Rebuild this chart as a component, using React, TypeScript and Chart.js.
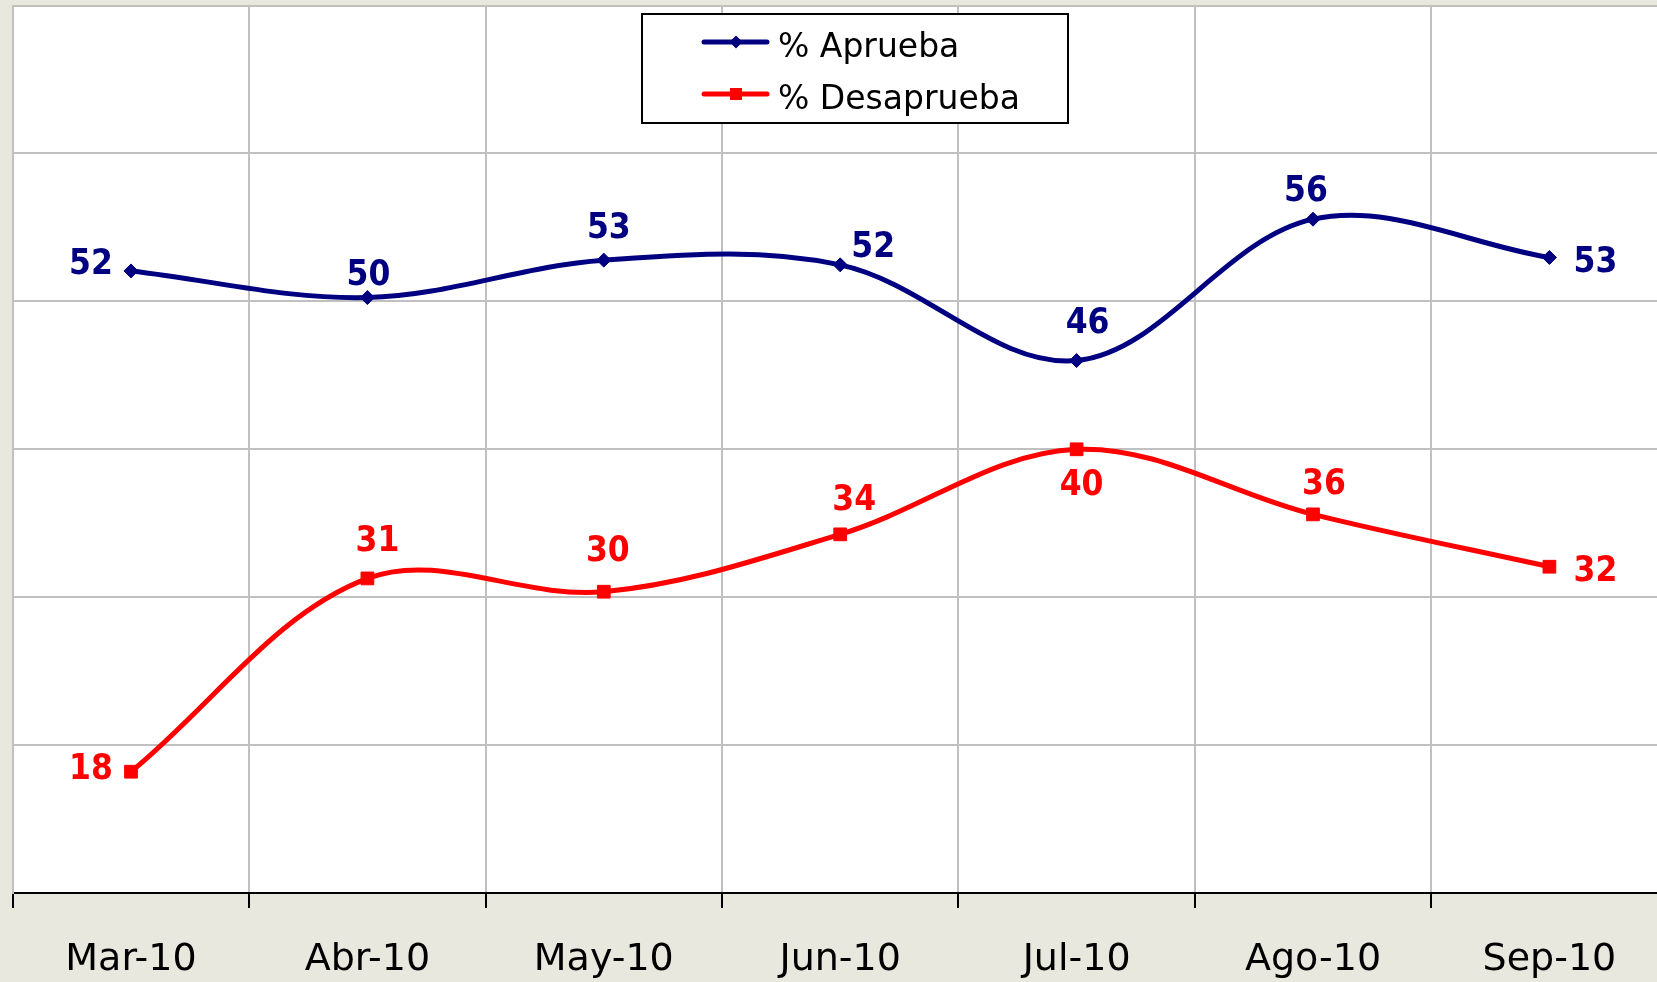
import React, { useEffect, useRef } from "react";
import { Chart, registerables } from "chart.js";

Chart.register(...registerables);

// ---- data ----
const categories = ["Mar-10", "Abr-10", "May-10", "Jun-10", "Jul-10", "Ago-10", "Sep-10"];
const apruebaValues = [52.06, 50.26, 52.79, 52.47, 46.0, 55.56, 52.97];
const desapruebaValues = [18.2, 31.27, 30.37, 34.25, 40.0, 35.6, 32.06];
const seriesNames = ["% Aprueba", "% Desaprueba"];
const yMin = 10;
const yMax = 70;
const yStep = 10;

// ---- style ----
const LABEL_FONT = '"DejaVu Sans Condensed", "DejaVu Sans", sans-serif';
const TEXT_FONT = '"DejaVu Sans", sans-serif';
const NAVY = "#000080";
const RED = "#FF0000";
const BEIGE = "rgb(232,232,222)";
const GRID = "#C0C0C0";
const apruebaLabelOffsets = [[-40, -6], [1, -22], [5, -31], [33, -17], [11, -37], [-7, -27], [46, 5]];
const desapruebaLabelOffsets = [[-40, -2], [10, -37], [4, -40], [14, -33], [5, 37], [11, -29], [46, 5]];
const labelOffsets = [apruebaLabelOffsets, desapruebaLabelOffsets];

const CANVAS_W = 1680;
const CANVAS_H = 982;

const backgroundPlugin = {
  id: "bg",
  beforeDraw(chart: any) {
    const { ctx, chartArea } = chart;
    ctx.save();
    ctx.fillStyle = BEIGE;
    ctx.fillRect(0, 0, chart.width, chart.height);
    ctx.fillStyle = "#FFFFFF";
    ctx.fillRect(chartArea.left, chartArea.top, chartArea.right - chartArea.left, chartArea.bottom - chartArea.top);
    ctx.restore();
  },
};

const dataLabelPlugin = {
  id: "dlabels",
  afterDatasetsDraw(chart: any) {
    const { ctx } = chart;
    ctx.save();
    ctx.font = `bold 35px ${LABEL_FONT}`;
    ctx.textAlign = "center";
    ctx.textBaseline = "middle";
    chart.data.datasets.forEach((ds: any, di: number) => {
      const meta = chart.getDatasetMeta(di);
      ctx.fillStyle = ds.borderColor;
      meta.data.forEach((pt: any, i: number) => {
        const [dx, dy] = labelOffsets[di][i];
        ctx.fillText(String(Math.round(ds.data[i])), pt.x + dx, pt.y + dy);
      });
    });
    ctx.restore();
  },
};

const legendPlugin = {
  id: "boxLegend",
  afterDraw(chart: any) {
    const { ctx } = chart;
    const left = 642, top = 14, w = 426, h = 109;
    ctx.save();
    ctx.fillStyle = "#FFFFFF";
    ctx.fillRect(left, top, w, h);
    ctx.strokeStyle = "#000000";
    ctx.lineWidth = 2;
    ctx.strokeRect(left, top, w, h);
    const rows = [42, 94];
    chart.data.datasets.forEach((ds: any, di: number) => {
      const y = rows[di];
      ctx.strokeStyle = ds.borderColor;
      ctx.lineWidth = 5;
      ctx.lineCap = "round";
      ctx.beginPath();
      ctx.moveTo(704, y);
      ctx.lineTo(767, y);
      ctx.stroke();
      ctx.fillStyle = ds.borderColor;
      if (ds.pointStyle === "rectRot") {
        ctx.beginPath();
        ctx.moveTo(736, y - 6.5);
        ctx.lineTo(742.5, y);
        ctx.lineTo(736, y + 6.5);
        ctx.lineTo(729.5, y);
        ctx.closePath();
        ctx.fill();
      } else {
        ctx.fillRect(730, y - 6, 12, 12);
      }
      ctx.fillStyle = "#000000";
      ctx.font = `33px ${TEXT_FONT}`;
      ctx.textAlign = "left";
      ctx.textBaseline = "alphabetic";
      ctx.fillText(ds.label, 778, y + 14.5);
    });
    ctx.restore();
  },
};

export default function App() {
  const ref = useRef<HTMLCanvasElement | null>(null);

  useEffect(() => {
    document.body.style.margin = "0";
    document.body.style.overflow = "hidden";
    const canvas = ref.current;
    if (!canvas) return;
    const chart = new Chart(canvas, {
      type: "line",
      data: {
        labels: categories,
        datasets: [
          {
            label: seriesNames[0],
            data: apruebaValues,
            borderColor: NAVY,
            backgroundColor: NAVY,
            borderWidth: 5,
            tension: 0.35,
            pointStyle: "rectRot",
            pointRadius: 7,
            pointBorderWidth: 1,
            fill: false,
          },
          {
            label: seriesNames[1],
            data: desapruebaValues,
            borderColor: RED,
            backgroundColor: RED,
            borderWidth: 5,
            tension: 0.35,
            pointStyle: "rect",
            pointRadius: 9,
            pointBorderWidth: 1,
            fill: false,
          },
        ],
      },
      options: {
        responsive: false,
        animation: false,
        devicePixelRatio: 1,
        layout: { autoPadding: false, padding: { left: 12.8, right: CANVAS_W - 1667.6, top: 5.6, bottom: 0 } },
        plugins: {
          legend: { display: false },
          tooltip: { enabled: false },
          title: { display: false },
        },
        scales: {
          x: {
            type: "category",
            offset: true,
            grid: {
              offset: true,
              color: GRID,
              lineWidth: 2,
              tickColor: "#000000",
              tickLength: 15,
              tickWidth: 2,
              drawOnChartArea: true,
            },
            border: { color: "#000000", width: 2 },
            ticks: {
              color: "#000000",
              font: { family: TEXT_FONT, size: 38 },
              padding: 29,
              maxRotation: 0,
              autoSkip: false,
            },
            afterFit(scale: any) {
              scale.height = 89;
            },
          },
          y: {
            min: yMin,
            max: yMax,
            ticks: { display: false, stepSize: yStep },
            grid: { color: GRID, lineWidth: 2, drawTicks: false },
            border: { color: GRID, width: 2 },
            afterFit(scale: any) {
              scale.width = 0;
            },
          },
        },
      },
      plugins: [backgroundPlugin, dataLabelPlugin, legendPlugin],
    } as any);
    return () => chart.destroy();
  }, []);

  return (
    <div style={{ position: "fixed", left: 0, top: 0, width: 1657, height: 982, overflow: "hidden" }}>
      <canvas ref={ref} width={CANVAS_W} height={CANVAS_H} style={{ width: CANVAS_W, height: CANVAS_H, display: "block" }} />
    </div>
  );
}
